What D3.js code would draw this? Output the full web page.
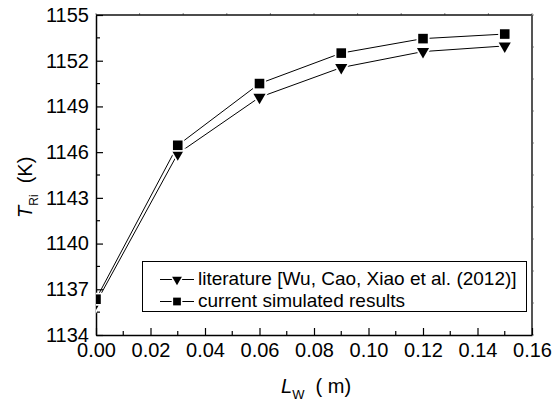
<!DOCTYPE html>
<html>
<head>
<meta charset="utf-8">
<script src="https://cdn.jsdelivr.net/npm/d3@7"></script>
<style>
  html, body { margin: 0; padding: 0; background: #fff; }
  svg { display: block; font-family: Arial, "Liberation Sans", sans-serif; }
</style>
</head>
<body>
<svg id="chart" width="553" height="403"></svg>
<script>
// Tube wall length (m)
const lengths = [0.00, 0.03, 0.06, 0.09, 0.12, 0.15];
// Outlet temperature (K)
const literatureT = [1136.1, 1145.9, 1149.6, 1151.55, 1152.6, 1152.97];
const simulatedT  = [1136.35, 1146.45, 1150.5, 1152.5, 1153.45, 1153.75];
const seriesNames = ["literature [Wu, Cao, Xiao et al. (2012)]", "current simulated results"];
const xTicks = [0.00, 0.02, 0.04, 0.06, 0.08, 0.10, 0.12, 0.14, 0.16];
const yTicks = [1134, 1137, 1140, 1143, 1146, 1149, 1152, 1155];

const svg = d3.select("#chart");
const pL = 96, pR = 532, pT = 15, pB = 335;

const x = d3.scaleLinear().domain([0, 0.16]).range([pL, pR]);
const y = d3.scaleLinear().domain([1134, 1155]).range([pB, pT]);

svg.append("defs").append("clipPath").attr("id", "plot-clip")
  .append("rect").attr("x", pL).attr("y", pT)
  .attr("width", pR - pL).attr("height", pB - pT);

// Frame: light top/right edges with tiny outer ticks
const frame = svg.append("g");
d3.range(0, 11).forEach(i => {
  const tx = pL + (pR - pL) * i / 10;
  frame.append("line").attr("x1", tx).attr("x2", tx).attr("y1", pT).attr("y2", pT - 2)
    .attr("stroke", "#888").attr("stroke-width", 1);
  const ty = pT + (pB - pT) * i / 10;
  frame.append("line").attr("x1", pR).attr("x2", pR + 2).attr("y1", ty).attr("y2", ty)
    .attr("stroke", "#888").attr("stroke-width", 1);
});
frame.append("line").attr("x1", pL).attr("x2", pR).attr("y1", pT).attr("y2", pT)
  .attr("stroke", "#111").attr("stroke-width", 1.5);
frame.append("line").attr("x1", pR).attr("x2", pR).attr("y1", pT).attr("y2", pB)
  .attr("stroke", "#555").attr("stroke-width", 2);

// Bottom axis, ticks pointing inward
const xMinor = d3.range(0.01, 0.16, 0.02);
const xAxis = svg.append("g").attr("transform", `translate(0,${pB})`)
  .call(d3.axisBottom(x).tickValues(xTicks).tickFormat(d3.format(".2f"))
    .tickSizeInner(-7).tickSizeOuter(0).tickPadding(8));
xAxis.select(".domain").attr("stroke-width", 1.5).attr("stroke", "#000");
xAxis.selectAll(".tick line").attr("stroke-width", 1.2);
xAxis.selectAll(".tick text").attr("font-size", 20).attr("fill", "#000");
xAxis.selectAll(".minor").data(xMinor).enter().append("line").attr("class", "minor")
  .attr("x1", d => x(d)).attr("x2", d => x(d)).attr("y1", 0).attr("y2", -4)
  .attr("stroke", "#000").attr("stroke-width", 1.2);

// Left axis, ticks pointing inward
const yMinor = d3.range(1135.5, 1155, 3);
const yAxis = svg.append("g").attr("transform", `translate(${pL},0)`)
  .call(d3.axisLeft(y).tickValues(yTicks).tickFormat(d3.format("d"))
    .tickSizeInner(-7).tickSizeOuter(0).tickPadding(7));
yAxis.select(".domain").attr("stroke-width", 1.5).attr("stroke", "#000");
yAxis.selectAll(".tick line").attr("stroke-width", 1.2);
yAxis.selectAll(".tick text").attr("font-size", 20).attr("fill", "#000");
yAxis.selectAll(".minor").data(yMinor).enter().append("line").attr("class", "minor")
  .attr("x1", 0).attr("x2", 4).attr("y1", d => y(d)).attr("y2", d => y(d))
  .attr("stroke", "#000").attr("stroke-width", 1.2);

// Series: lines with haloed markers, clipped to the plot area
const triangle = d3.symbol().type(d3.symbolTriangle).size(64);
const square = d3.symbol().type(d3.symbolSquare).size(92);
const series = [
  { values: literatureT, path: triangle(), rotate: 180 },
  { values: simulatedT, path: square(), rotate: 0 }
];
const plot = svg.append("g").attr("clip-path", "url(#plot-clip)");
const line = d3.line().x((d, i) => x(lengths[i])).y(d => y(d));
series.forEach(s => {
  plot.append("path").attr("d", line(s.values))
    .attr("fill", "none").attr("stroke", "#000").attr("stroke-width", 1);
});
series.forEach(s => {
  plot.selectAll(null).data(s.values).enter().append("path")
    .attr("d", s.path)
    .attr("transform", (d, i) => `translate(${x(lengths[i])},${y(d)}) rotate(${s.rotate})`)
    .attr("fill", "#000").attr("stroke", "#fff").attr("stroke-width", 3.5)
    .style("paint-order", "stroke");
});

// Legend
const lg = svg.append("g");
lg.append("rect").attr("x", 142.5).attr("y", 261.5).attr("width", 384).attr("height", 50)
  .attr("fill", "#fff").attr("stroke", "#000").attr("stroke-width", 1);
const legendPaths = [d3.symbol().type(d3.symbolTriangle).size(42)(), d3.symbol().type(d3.symbolSquare).size(60)()];
const legendRot = [180, 0];
[0, 1].forEach(i => {
  const cy = 279.5 + i * 22;
  lg.append("line").attr("x1", 160).attr("x2", 194).attr("y1", cy).attr("y2", cy)
    .attr("stroke", "#000").attr("stroke-width", 1);
  lg.append("path").attr("d", legendPaths[i])
    .attr("transform", `translate(177,${cy}) rotate(${legendRot[i]})`)
    .attr("fill", "#000").attr("stroke", "#fff").attr("stroke-width", 3)
    .style("paint-order", "stroke");
  lg.append("text").attr("x", 198).attr("y", cy + 5.5)
    .attr("font-size", 19).attr("fill", "#000").text(seriesNames[i]);
});

// Axis titles
const xt = svg.append("text").attr("x", 281).attr("y", 393).attr("font-size", 20).attr("fill", "#000")
  .attr("xml:space", "preserve");
xt.append("tspan").attr("font-style", "italic").text("L");
xt.append("tspan").attr("font-size", 13).attr("dy", 6).text("W");
xt.append("tspan").attr("dy", -6).text("  ( m)");

const yt = svg.append("text").attr("transform", "translate(32,218) rotate(-90)")
  .attr("font-size", 20).attr("fill", "#000").attr("xml:space", "preserve");
yt.append("tspan").attr("font-style", "italic").text("T");
yt.append("tspan").attr("font-size", 12).attr("dy", 6).text("Ri");
yt.append("tspan").attr("dy", -6).text("  (K)");
</script>
</body>
</html>
